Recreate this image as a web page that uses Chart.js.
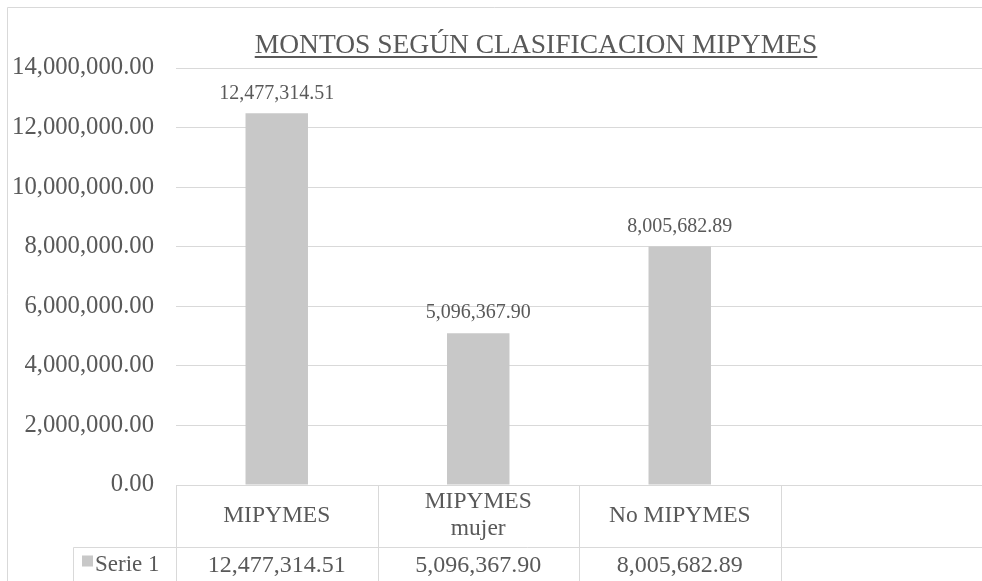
<!DOCTYPE html>
<html>
<head>
<meta charset="utf-8">
<script src="https://cdn.jsdelivr.net/npm/chart.js@4"></script>
<style>
  html, body { margin: 0; padding: 0; background: #fff; overflow: hidden; }
</style>
</head>
<body>
<canvas id="chart" width="982" height="581"></canvas>
<script>
// data
const categories = [['MIPYMES'], ['MIPYMES', 'mujer'], ['No MIPYMES'], ['']];
const serieName = 'Serie 1';
const serieValues = [12477314.51, 5096367.90, 8005682.89, null];
const yTickValues = [0, 2000000, 4000000, 6000000, 8000000, 10000000, 12000000, 14000000];
const chartTitle = 'MONTOS SEGÚN CLASIFICACION MIPYMES';

const TEXT = '#595959';
const LINE = '#d9d9d9';
const BAR = '#c8c8c8';
const SERIF = '"Liberation Serif", "Times New Roman", serif';

const fmt = v => v.toLocaleString('en-US', { minimumFractionDigits: 2, maximumFractionDigits: 2 });

// Excel-like frame, title, value labels and data table under the axis
const excelLook = {
    id: 'excelLook',
    beforeDraw(chart) {
        const ctx = chart.ctx;
        ctx.save();
        ctx.fillStyle = '#fff';
        ctx.fillRect(0, 0, chart.width, chart.height);
        ctx.strokeStyle = LINE;
        ctx.lineWidth = 1;
        ctx.beginPath();
        ctx.moveTo(7.5, chart.height);
        ctx.lineTo(7.5, 7.5);
        ctx.lineTo(chart.width, 7.5);
        ctx.stroke();
        ctx.restore();
    },
    afterDraw(chart) {
        const ctx = chart.ctx;
        const area = chart.chartArea;
        const x = chart.scales.x;
        const colW = (x.right - x.left) / categories.length;
        ctx.save();

        // title
        ctx.fillStyle = TEXT;
        ctx.font = '27.5px ' + SERIF;
        ctx.textAlign = 'center';
        ctx.textBaseline = 'alphabetic';
        ctx.fillText(chartTitle, 536, 53);
        const tw = ctx.measureText(chartTitle).width;
        ctx.fillRect(536 - tw / 2, 56, tw, 2);

        // value labels above bars
        ctx.font = '20px ' + SERIF;
        ctx.textBaseline = 'bottom';
        chart.getDatasetMeta(0).data.forEach((bar, i) => {
            if (serieValues[i] == null) return;
            ctx.fillText(fmt(serieValues[i]), bar.x, bar.y - 10);
        });

        // data table
        const top = area.bottom + 0.5;
        const mid = area.bottom + 62.5;
        ctx.strokeStyle = LINE;
        ctx.lineWidth = 1;
        ctx.beginPath();
        ctx.moveTo(x.left, top); ctx.lineTo(chart.width, top);
        ctx.moveTo(73.5, mid); ctx.lineTo(chart.width, mid);
        ctx.moveTo(73.5, mid); ctx.lineTo(73.5, chart.height);
        for (let i = 0; i <= categories.length; i++) {
            const ex = Math.round(x.left + i * colW) + 0.5;
            ctx.moveTo(ex, top); ctx.lineTo(ex, chart.height);
        }
        ctx.stroke();

        ctx.fillStyle = TEXT;
        ctx.textBaseline = 'middle';
        ctx.textAlign = 'center';
        categories.forEach((lines, i) => {
            const cx = x.getPixelForValue(i);
            ctx.font = '23.5px ' + SERIF;
            const lh = 27;
            const y0 = (top + mid) / 2 - 1 - (lines.length - 1) * lh / 2;
            lines.forEach((t, j) => ctx.fillText(t, cx, y0 + j * lh));
            if (serieValues[i] != null) {
                ctx.font = '24px ' + SERIF;
                ctx.fillText(fmt(serieValues[i]), cx, mid + 18);
            }
        });

        // legend key
        ctx.fillStyle = BAR;
        ctx.fillRect(82, mid + 8, 11, 11);
        ctx.fillStyle = TEXT;
        ctx.textAlign = 'left';
        ctx.font = '23px ' + SERIF;
        ctx.fillText(serieName, 95, mid + 17);

        ctx.restore();
    }
};

new Chart(document.getElementById('chart'), {
    type: 'bar',
    data: {
        labels: categories,
        datasets: [{
            label: serieName,
            data: serieValues,
            backgroundColor: BAR,
            borderWidth: 0,
            categoryPercentage: 0.62,
            barPercentage: 0.5
        }]
    },
    options: {
        responsive: false,
        animation: false,
        devicePixelRatio: 1,
        layout: { padding: { top: 68, bottom: 96, left: 0, right: 0 } },
        plugins: {
            legend: { display: false },
            tooltip: { enabled: false },
            title: { display: false }
        },
        scales: {
            x: { display: false },
            y: {
                min: 0,
                max: 14000000,
                afterBuildTicks: s => { s.ticks = yTickValues.map(v => ({ value: v })); },
                afterFit: s => { s.width = 176; },
                border: { display: false },
                grid: { color: LINE, drawTicks: false },
                ticks: {
                    color: TEXT,
                    padding: 22,
                    font: { family: SERIF, size: 24.7 },
                    callback: v => fmt(v)
                }
            }
        }
    },
    plugins: [excelLook]
});
</script>
</body>
</html>
